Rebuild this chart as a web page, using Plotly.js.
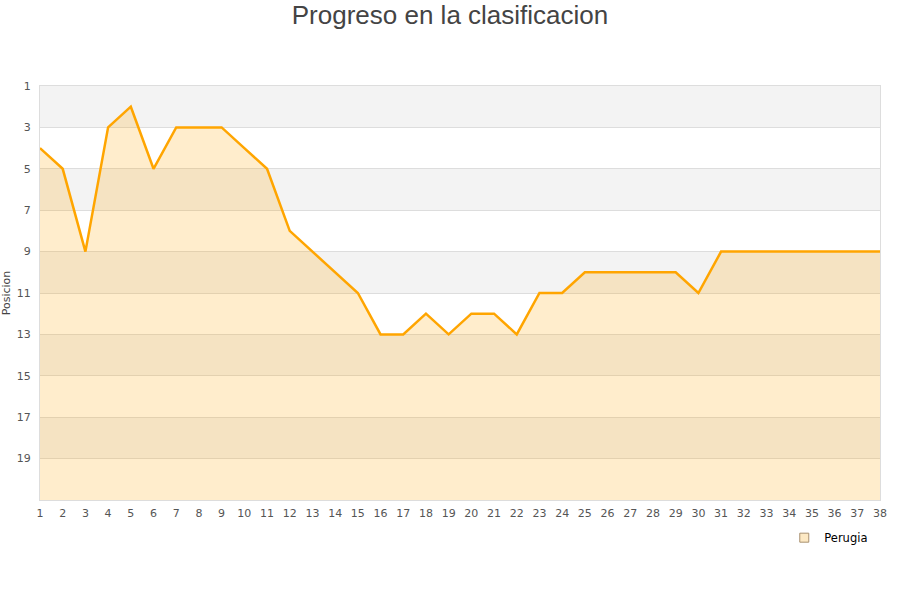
<!DOCTYPE html>
<html>
<head>
<meta charset="utf-8">
<script src="https://cdn.plot.ly/plotly-3.0.1.min.js"></script>
<style>html,body{margin:0;padding:0;background:#fff}#chart{width:900px;height:600px}</style>
</head>
<body>
<div id="chart"></div>
<script>
const jornadas = [1,2,3,4,5,6,7,8,9,10,11,12,13,14,15,16,17,18,19,20,21,22,23,24,25,26,27,28,29,30,31,32,33,34,35,36,37,38];
const posiciones = [4,5,9,3,2,5,3,3,3,4,5,8,9,10,11,13,13,12,13,12,12,13,11,11,10,10,10,10,10,11,9,9,9,9,9,9,9,9];
const yTicks = [1,3,5,7,9,11,13,15,17,19];
const equipo = 'Perugia';
const yMin = 1, yMax = 21;

const baseline = jornadas.map(() => yMax);
const bands = [];
for (let i = 0; i < yTicks.length; i += 2) {
  bands.push({type:'rect', xref:'paper', yref:'y', x0:0, x1:1, y0:yTicks[i], y1:yTicks[i]+2,
    fillcolor:'#f3f3f3', line:{width:0}, layer:'below'});
}

const traces = [
  {x:jornadas, y:baseline, mode:'lines', line:{width:0, color:'rgba(0,0,0,0)'}, showlegend:false, hoverinfo:'skip'},
  {x:jornadas, y:posiciones, mode:'lines', fill:'tonexty', fillcolor:'rgba(255,165,0,0.2)',
   line:{color:'#ffa500', width:2.5}, showlegend:false, name:equipo},
  {x:[null], y:[null], mode:'markers', name:equipo,
   marker:{symbol:'square', size:9, color:'#fde9c4', line:{color:'#a89070', width:1}}}
];

const layout = {
  width:900, height:600,
  paper_bgcolor:'#fff', plot_bgcolor:'rgba(0,0,0,0)',
  margin:{l:40, r:20, t:86, b:100},
  title:{text:'Progreso en la clasificacion', x:0.5, xanchor:'center', y:0.975, yanchor:'middle',
    font:{family:'Liberation Sans, Arial, sans-serif', size:26, color:'#444'}},
  font:{family:'DejaVu Sans, sans-serif', size:11, color:'#555'},
  xaxis:{range:[jornadas[0], jornadas[jornadas.length-1]], tickmode:'array', tickvals:jornadas,
    ticktext:jornadas.map(String), showgrid:false, zeroline:false, showline:true, linecolor:'#ddd',
    mirror:true, ticks:'', ticklabelstandoff:3, tickfont:{size:11, color:'#555'}},
  yaxis:{range:[yMax, yMin], tickmode:'array', tickvals:yTicks, ticktext:yTicks.map(String),
    showgrid:true, gridcolor:'#ddd', gridwidth:1, zeroline:false, showline:true, linecolor:'#ddd',
    mirror:true, ticks:'', ticklabelstandoff:6, tickfont:{size:11, color:'#555'},
    title:{text:'Posicion', standoff:3, font:{size:11, color:'#444'}}},
  shapes:bands,
  showlegend:true,
  legend:{orientation:'h', x:0.992, xanchor:'right', y:-0.056, yanchor:'top',
    font:{size:11.5, color:'#000'}, bgcolor:'rgba(255,255,255,0)'}
};

Plotly.newPlot('chart', traces, layout, {displayModeBar:false, staticPlot:true});
</script>
</body>
</html>
